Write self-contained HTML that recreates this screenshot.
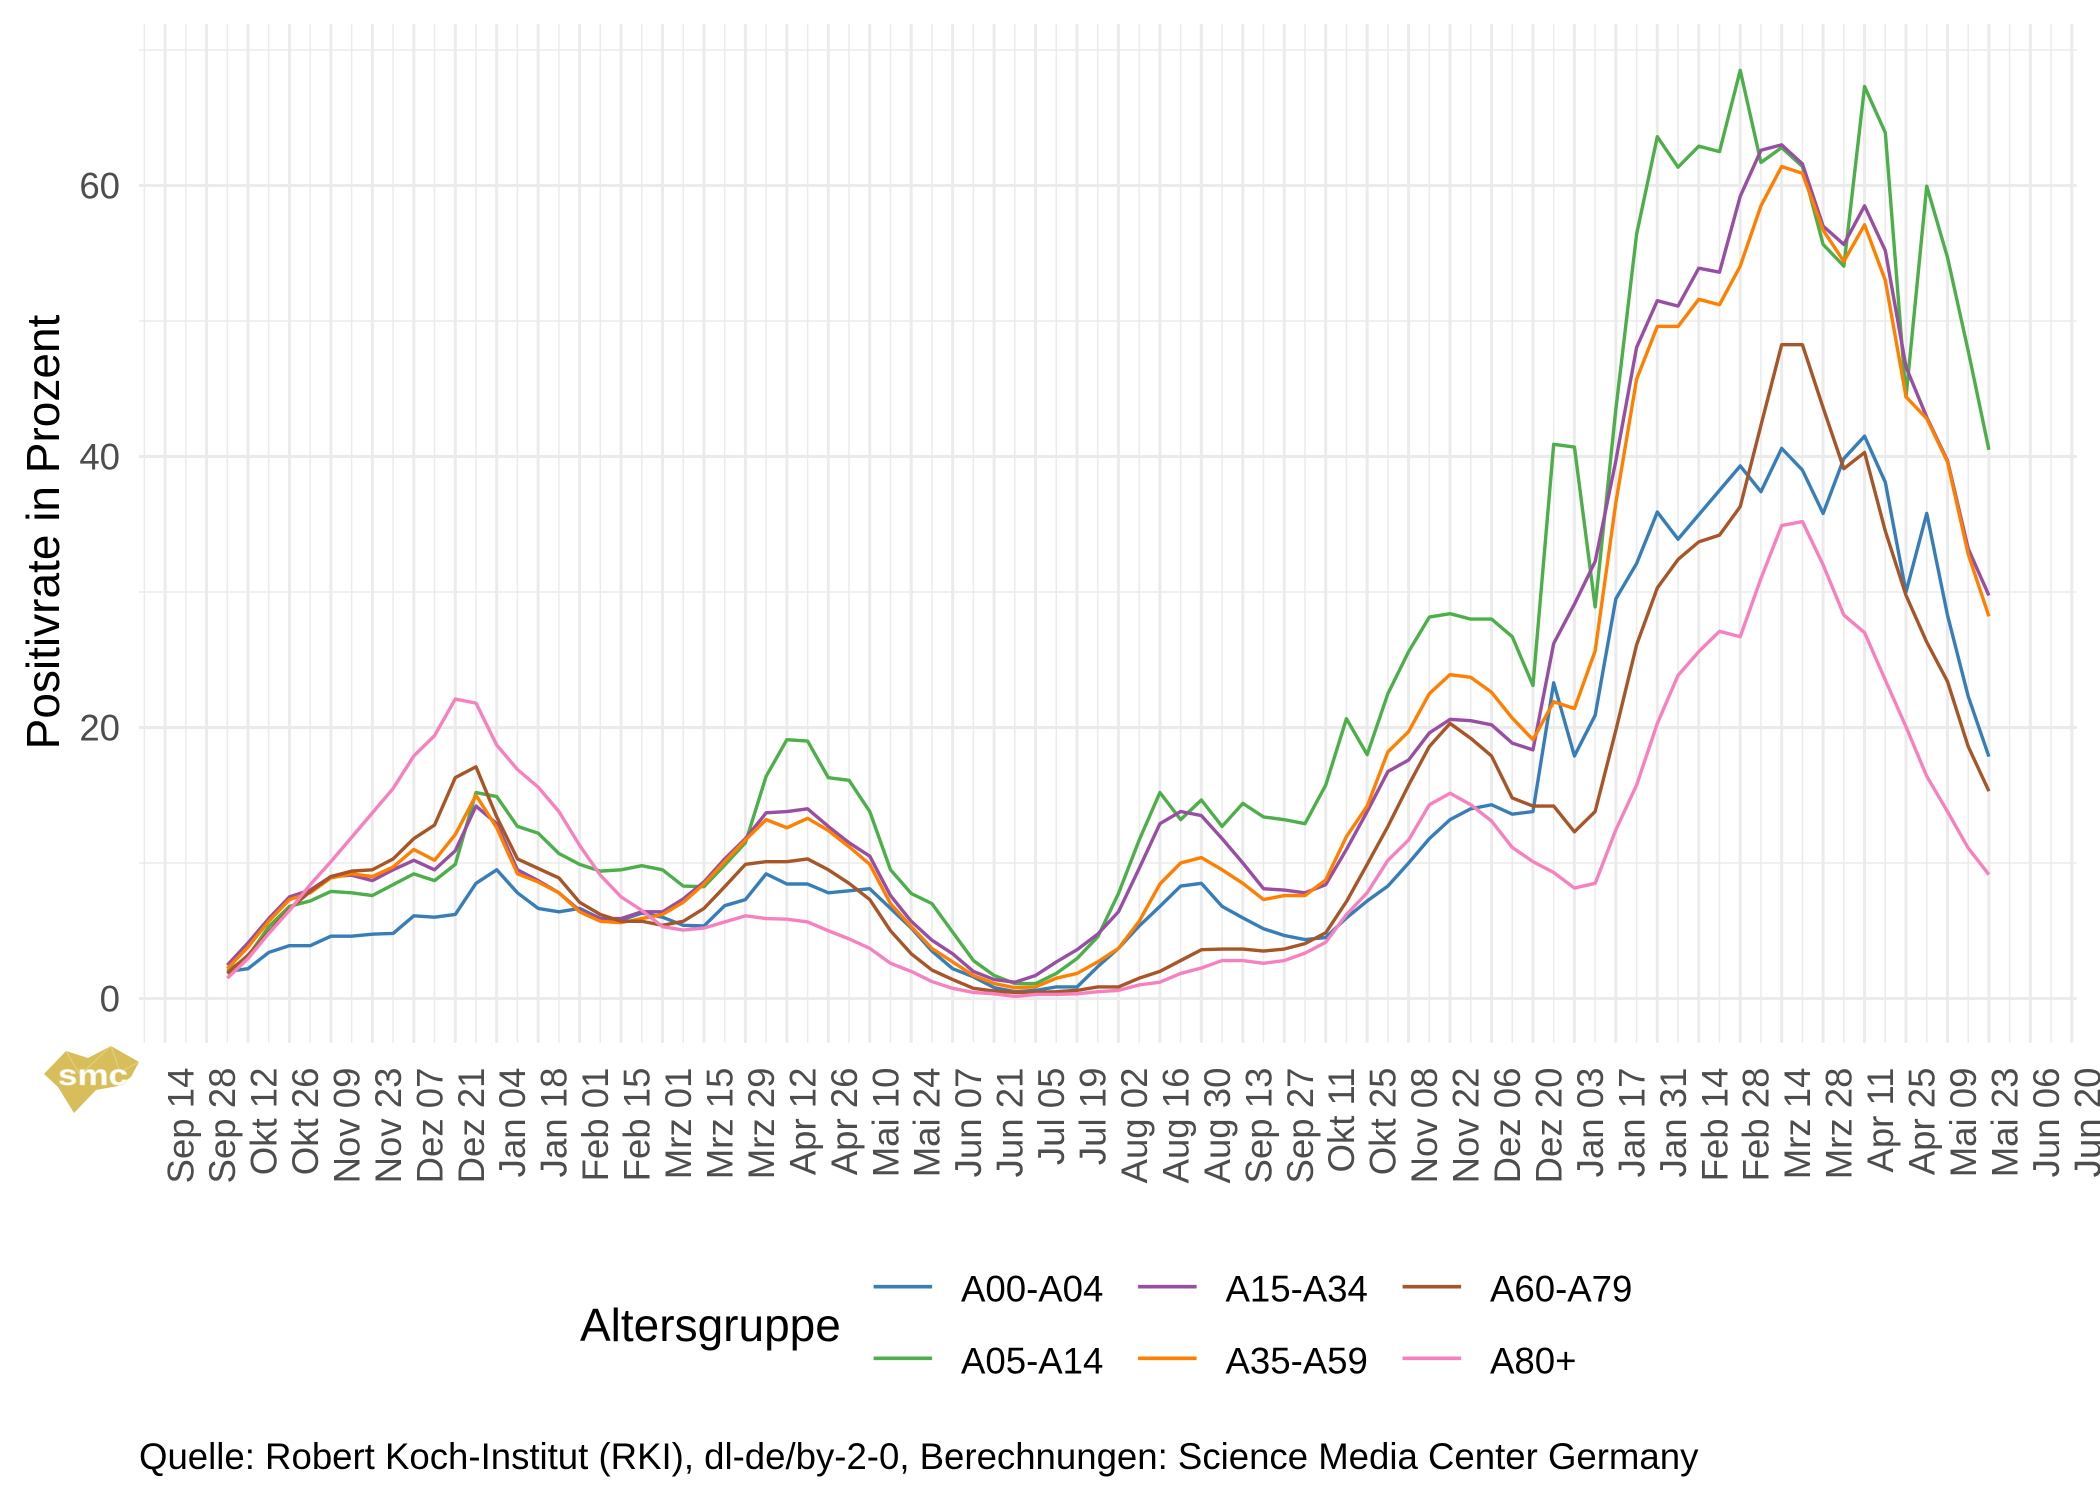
<!DOCTYPE html>
<html>
<head>
<meta charset="utf-8">
<style>
html,body{margin:0;padding:0;background:#fff;}
svg{display:block;}
text{font-family:"Liberation Sans",Arial,sans-serif;}
</style>
</head>
<body>
<svg xmlns="http://www.w3.org/2000/svg" width="2100" height="1499" viewBox="0 0 2100 1499">
<rect x="0" y="0" width="2100" height="1499" fill="#ffffff"/>

<!-- minor gridlines -->
<g stroke="#EBEBEB" fill="none">
  <path stroke-width="1.5" d="M139 863H2076.7M139 592H2076.7M139 321H2076.7M139 50H2076.7"/>
  <g transform="translate(165.1,0) scale(20.725,1)">
    <path vector-effect="non-scaling-stroke" stroke-width="1.5" d="M-1 24V1042.7M1 24V1042.7M3 24V1042.7M5 24V1042.7M7 24V1042.7M9 24V1042.7M11 24V1042.7M13 24V1042.7M15 24V1042.7M17 24V1042.7M19 24V1042.7M21 24V1042.7M23 24V1042.7M25 24V1042.7M27 24V1042.7M29 24V1042.7M31 24V1042.7M33 24V1042.7M35 24V1042.7M37 24V1042.7M39 24V1042.7M41 24V1042.7M43 24V1042.7M45 24V1042.7M47 24V1042.7M49 24V1042.7M51 24V1042.7M53 24V1042.7M55 24V1042.7M57 24V1042.7M59 24V1042.7M61 24V1042.7M63 24V1042.7M65 24V1042.7M67 24V1042.7M69 24V1042.7M71 24V1042.7M73 24V1042.7M75 24V1042.7M77 24V1042.7M79 24V1042.7M81 24V1042.7M83 24V1042.7M85 24V1042.7M87 24V1042.7M89 24V1042.7M91 24V1042.7"/>
  </g>
  <!-- major -->
  <path stroke-width="3" d="M139 998.5H2076.7M139 727.5H2076.7M139 456.5H2076.7M139 185.5H2076.7"/>
  <g transform="translate(165.1,0) scale(20.725,1)">
    <path vector-effect="non-scaling-stroke" stroke-width="3" d="M0 24V1042.7M2 24V1042.7M4 24V1042.7M6 24V1042.7M8 24V1042.7M10 24V1042.7M12 24V1042.7M14 24V1042.7M16 24V1042.7M18 24V1042.7M20 24V1042.7M22 24V1042.7M24 24V1042.7M26 24V1042.7M28 24V1042.7M30 24V1042.7M32 24V1042.7M34 24V1042.7M36 24V1042.7M38 24V1042.7M40 24V1042.7M42 24V1042.7M44 24V1042.7M46 24V1042.7M48 24V1042.7M50 24V1042.7M52 24V1042.7M54 24V1042.7M56 24V1042.7M58 24V1042.7M60 24V1042.7M62 24V1042.7M64 24V1042.7M66 24V1042.7M68 24V1042.7M70 24V1042.7M72 24V1042.7M74 24V1042.7M76 24V1042.7M78 24V1042.7M80 24V1042.7M82 24V1042.7M84 24V1042.7M86 24V1042.7M88 24V1042.7M90 24V1042.7M92 24V1042.7"/>
  </g>
</g>

<!-- data series -->
<g transform="translate(227.3,998.5) scale(20.725,-13.55)" fill="none" stroke-linejoin="round">
  <polyline vector-effect="non-scaling-stroke" stroke="#377EB8" stroke-width="3.4" points="0,2 1,2.2 2,3.4 3,3.9 4,3.9 5,4.6 6,4.6 7,4.75 8,4.8 9,6.1 10,6 11,6.2 12,8.5 13,9.5 14,7.8 15,6.65 16,6.4 17,6.65 18,5.9 19,5.8 20,6.3 21,6 22,5.4 23,5.35 24,6.85 25,7.3 26,9.2 27,8.45 28,8.45 29,7.8 30,7.95 31,8.1 32,6.65 33,5.2 34,3.5 35,2.2 36,1.6 37,0.8 38,0.5 39,0.6 40,0.85 41,0.85 42,2.35 43,3.7 44,5.35 45,6.8 46,8.3 47,8.5 48,6.8 49,5.95 50,5.15 51,4.65 52,4.35 53,4.5 54,5.95 55,7.2 56,8.3 57,10 58,11.8 59,13.2 60,14 61,14.3 62,13.6 63,13.8 64,23.3 65,17.9 66,20.9 67,29.5 68,32.1 69,35.9 70,33.9 71,35.7 72,37.5 73,39.3 74,37.4 75,40.6 76,39 77,35.8 78,39.85 79,41.5 80,38.1 81,30 82,35.8 83,28.3 84,22.3 85,17.85"/>
  <polyline vector-effect="non-scaling-stroke" stroke="#4DAF4A" stroke-width="3.4" points="0,2 1,3.1 2,5.3 3,6.8 4,7.2 5,7.9 6,7.8 7,7.6 8,8.4 9,9.2 10,8.7 11,9.9 12,15.2 13,14.9 14,12.7 15,12.2 16,10.7 17,9.9 18,9.4 19,9.5 20,9.8 21,9.5 22,8.3 23,8.25 24,9.85 25,11.5 26,16.4 27,19.1 28,19 29,16.3 30,16.1 31,13.8 32,9.5 33,7.75 34,7 35,4.9 36,2.8 37,1.7 38,1.1 39,1.1 40,1.85 41,2.95 42,4.55 43,7.75 44,11.7 45,15.2 46,13.2 47,14.65 48,12.7 49,14.4 50,13.4 51,13.2 52,12.9 53,15.75 54,20.65 55,18 56,22.5 57,25.6 58,28.15 59,28.4 60,28 61,28 62,26.7 63,23.1 64,40.9 65,40.7 66,28.9 67,43.5 68,56.4 69,63.6 70,61.35 71,62.9 72,62.5 73,68.5 74,61.7 75,62.8 76,61.4 77,55.65 78,54.05 79,67.3 80,63.9 81,44.4 82,59.95 83,54.7 84,47.8 85,40.5"/>
  <polyline vector-effect="non-scaling-stroke" stroke="#984EA3" stroke-width="3.4" points="0,2.46 1,4.1 2,5.9 3,7.5 4,8 5,9 6,9.1 7,8.7 8,9.5 9,10.2 10,9.5 11,10.9 12,14.2 13,12.9 14,9.5 15,8.7 16,7.8 17,6.5 18,5.9 19,5.9 20,6.4 21,6.4 22,7.35 23,8.6 24,10.3 25,11.8 26,13.7 27,13.8 28,14 29,12.7 30,11.5 31,10.5 32,7.6 33,5.7 34,4.3 35,3.3 36,2 37,1.4 38,1.2 39,1.7 40,2.7 41,3.6 42,4.75 43,6.4 44,9.6 45,12.9 46,13.8 47,13.5 48,11.8 49,10 50,8.1 51,8 52,7.8 53,8.4 54,11 55,13.8 56,16.75 57,17.6 58,19.6 59,20.6 60,20.5 61,20.2 62,18.85 63,18.35 64,26.2 65,29.1 66,32.25 67,39.7 68,48.05 69,51.5 70,51.1 71,53.9 72,53.6 73,59.2 74,62.6 75,63 76,61.6 77,57 78,55.65 79,58.5 80,55.2 81,46.6 82,42.9 83,39.7 84,33.2 85,29.75"/>
  <polyline vector-effect="non-scaling-stroke" stroke="#FF7F00" stroke-width="3.4" points="0,2.2 1,3.8 2,5.7 3,7.3 4,7.8 5,8.9 6,9.2 7,9 8,9.7 9,11 10,10.2 11,12.1 12,15 13,12.6 14,9.2 15,8.6 16,7.8 17,6.4 18,5.7 19,5.6 20,5.9 21,6.2 22,7.1 23,8.45 24,10.1 25,11.7 26,13.2 27,12.6 28,13.3 29,12.4 30,11.2 31,9.9 32,7 33,5.3 34,3.7 35,2.7 36,1.7 37,1.1 38,0.8 39,0.85 40,1.5 41,1.85 42,2.7 43,3.7 44,5.7 45,8.45 46,10 47,10.4 48,9.5 49,8.5 50,7.3 51,7.6 52,7.6 53,8.75 54,11.95 55,14.2 56,18.2 57,19.7 58,22.5 59,23.9 60,23.7 61,22.6 62,20.7 63,19.1 64,21.9 65,21.4 66,25.65 67,36.6 68,45.7 69,49.6 70,49.6 71,51.6 72,51.2 73,54.05 74,58.5 75,61.4 76,60.9 77,56.7 78,54.4 79,57.1 80,53 81,44.4 82,42.8 83,39.6 84,32.8 85,28.2"/>
  <polyline vector-effect="non-scaling-stroke" stroke="#A65628" stroke-width="3.4" points="0,1.85 1,3.2 2,4.9 3,6.6 4,7.9 5,9 6,9.4 7,9.5 8,10.3 9,11.8 10,12.8 11,16.3 12,17.1 13,13.4 14,10.3 15,9.6 16,8.9 17,7.1 18,6.2 19,5.7 20,5.7 21,5.4 22,5.7 23,6.65 24,8.25 25,9.9 26,10.1 27,10.1 28,10.3 29,9.5 30,8.5 31,7.3 32,5 33,3.3 34,2.1 35,1.4 36,0.75 37,0.55 38,0.45 39,0.45 40,0.5 41,0.6 42,0.85 43,0.85 44,1.5 45,2 46,2.8 47,3.6 48,3.65 49,3.65 50,3.5 51,3.65 52,4.05 53,4.85 54,7.15 55,9.9 56,12.7 57,15.75 58,18.6 59,20.3 60,19.2 61,17.9 62,14.8 63,14.2 64,14.2 65,12.3 66,13.8 67,19.8 68,26.1 69,30.3 70,32.4 71,33.7 72,34.2 73,36.3 74,42.3 75,48.25 76,48.25 77,43.6 78,39.1 79,40.3 80,34.5 81,29.75 82,26.3 83,23.4 84,18.6 85,15.3"/>
  <polyline vector-effect="non-scaling-stroke" stroke="#F781BF" stroke-width="3.4" points="0,1.5 1,2.95 2,4.8 3,6.5 4,8.4 5,10.1 6,11.9 7,13.7 8,15.5 9,17.9 10,19.4 11,22.1 12,21.8 13,18.7 14,16.9 15,15.6 16,13.8 17,11.3 18,9.1 19,7.5 20,6.5 21,5.3 22,5.05 23,5.2 24,5.65 25,6.1 26,5.9 27,5.85 28,5.65 29,5 30,4.4 31,3.7 32,2.6 33,2 34,1.25 35,0.75 36,0.45 37,0.35 38,0.15 39,0.3 40,0.3 41,0.35 42,0.5 43,0.6 44,1 45,1.2 46,1.85 47,2.25 48,2.8 49,2.8 50,2.6 51,2.8 52,3.35 53,4.15 54,6.2 55,7.8 56,10.2 57,11.7 58,14.3 59,15.15 60,14.3 61,13.1 62,11.15 63,10.1 64,9.3 65,8.15 66,8.5 67,12.45 68,15.75 69,20.3 70,23.85 71,25.6 72,27.1 73,26.7 74,31 75,34.9 76,35.2 77,32 78,28.3 79,27 80,23.5 81,20.05 82,16.4 83,13.8 84,11.1 85,9.15"/>
</g>

<!-- y axis tick labels -->
<g font-size="36.6" fill="#4D4D4D" text-anchor="end">
  <text x="120" y="1011.5">0</text>
  <text x="120" y="740.5">20</text>
  <text x="120" y="469.5">40</text>
  <text x="120" y="198.5">60</text>
</g>

<!-- y axis title -->
<text transform="translate(59,532) rotate(-90)" text-anchor="middle" font-size="46" fill="#000">Positivrate in Prozent</text>

<!-- x axis tick labels -->
<g font-size="36.6" fill="#4D4D4D" text-anchor="end">
  <text transform="translate(193.6,1067.5) rotate(-90)">Sep 14</text>
  <text transform="translate(235.05,1067.5) rotate(-90)">Sep 28</text>
  <text transform="translate(276.5,1067.5) rotate(-90)">Okt 12</text>
  <text transform="translate(317.95,1067.5) rotate(-90)">Okt 26</text>
  <text transform="translate(359.4,1067.5) rotate(-90)">Nov 09</text>
  <text transform="translate(400.85,1067.5) rotate(-90)">Nov 23</text>
  <text transform="translate(442.3,1067.5) rotate(-90)">Dez 07</text>
  <text transform="translate(483.75,1067.5) rotate(-90)">Dez 21</text>
  <text transform="translate(525.2,1067.5) rotate(-90)">Jan 04</text>
  <text transform="translate(566.65,1067.5) rotate(-90)">Jan 18</text>
  <text transform="translate(608.1,1067.5) rotate(-90)">Feb 01</text>
  <text transform="translate(649.55,1067.5) rotate(-90)">Feb 15</text>
  <text transform="translate(691,1067.5) rotate(-90)">Mrz 01</text>
  <text transform="translate(732.45,1067.5) rotate(-90)">Mrz 15</text>
  <text transform="translate(773.9,1067.5) rotate(-90)">Mrz 29</text>
  <text transform="translate(815.35,1067.5) rotate(-90)">Apr 12</text>
  <text transform="translate(856.8,1067.5) rotate(-90)">Apr 26</text>
  <text transform="translate(898.25,1067.5) rotate(-90)">Mai 10</text>
  <text transform="translate(939.7,1067.5) rotate(-90)">Mai 24</text>
  <text transform="translate(981.15,1067.5) rotate(-90)">Jun 07</text>
  <text transform="translate(1022.6,1067.5) rotate(-90)">Jun 21</text>
  <text transform="translate(1064.05,1067.5) rotate(-90)">Jul 05</text>
  <text transform="translate(1105.5,1067.5) rotate(-90)">Jul 19</text>
  <text transform="translate(1146.95,1067.5) rotate(-90)">Aug 02</text>
  <text transform="translate(1188.4,1067.5) rotate(-90)">Aug 16</text>
  <text transform="translate(1229.85,1067.5) rotate(-90)">Aug 30</text>
  <text transform="translate(1271.3,1067.5) rotate(-90)">Sep 13</text>
  <text transform="translate(1312.75,1067.5) rotate(-90)">Sep 27</text>
  <text transform="translate(1354.2,1067.5) rotate(-90)">Okt 11</text>
  <text transform="translate(1395.65,1067.5) rotate(-90)">Okt 25</text>
  <text transform="translate(1437.1,1067.5) rotate(-90)">Nov 08</text>
  <text transform="translate(1478.55,1067.5) rotate(-90)">Nov 22</text>
  <text transform="translate(1520,1067.5) rotate(-90)">Dez 06</text>
  <text transform="translate(1561.45,1067.5) rotate(-90)">Dez 20</text>
  <text transform="translate(1602.9,1067.5) rotate(-90)">Jan 03</text>
  <text transform="translate(1644.35,1067.5) rotate(-90)">Jan 17</text>
  <text transform="translate(1685.8,1067.5) rotate(-90)">Jan 31</text>
  <text transform="translate(1727.25,1067.5) rotate(-90)">Feb 14</text>
  <text transform="translate(1768.7,1067.5) rotate(-90)">Feb 28</text>
  <text transform="translate(1810.15,1067.5) rotate(-90)">Mrz 14</text>
  <text transform="translate(1851.6,1067.5) rotate(-90)">Mrz 28</text>
  <text transform="translate(1893.05,1067.5) rotate(-90)">Apr 11</text>
  <text transform="translate(1934.5,1067.5) rotate(-90)">Apr 25</text>
  <text transform="translate(1975.95,1067.5) rotate(-90)">Mai 09</text>
  <text transform="translate(2017.4,1067.5) rotate(-90)">Mai 23</text>
  <text transform="translate(2058.85,1067.5) rotate(-90)">Jun 06</text>
  <text transform="translate(2100.3,1067.5) rotate(-90)">Jun 20</text>
</g>

<!-- logo -->
<g>
  <polygon fill="#D8BE5A" points="44,1074 66,1051 88,1058 111,1046 139,1062 131,1077 118,1086 96,1090 74,1113 58,1087"/>
  <polyline fill="none" stroke="#E8D68F" stroke-width="0.8" points="66,1051 80,1075 111,1046 120,1072 139,1062"/>
  <text x="93" y="1085" font-size="30" font-weight="bold" fill="#ffffff" text-anchor="middle" textLength="70" lengthAdjust="spacingAndGlyphs" stroke="#EFE3B0" stroke-width="0.6">smc</text>
</g>

<!-- legend -->
<text x="580" y="1341" font-size="46" fill="#000">Altersgruppe</text>
<g stroke-width="3.6" fill="none">
  <line x1="873.6" y1="1286.7" x2="932.1" y2="1286.7" stroke="#377EB8"/>
  <line x1="873.6" y1="1358.3" x2="932.1" y2="1358.3" stroke="#4DAF4A"/>
  <line x1="1138.1" y1="1286.7" x2="1196.6" y2="1286.7" stroke="#984EA3"/>
  <line x1="1138.1" y1="1358.3" x2="1196.6" y2="1358.3" stroke="#FF7F00"/>
  <line x1="1402.6" y1="1286.7" x2="1461.1" y2="1286.7" stroke="#A65628"/>
  <line x1="1402.6" y1="1358.3" x2="1461.1" y2="1358.3" stroke="#F781BF"/>
</g>
<g font-size="36.6" fill="#000">
  <text x="961" y="1301.7">A00-A04</text>
  <text x="961" y="1373.3">A05-A14</text>
  <text x="1225.5" y="1301.7">A15-A34</text>
  <text x="1225.5" y="1373.3">A35-A59</text>
  <text x="1490" y="1301.7">A60-A79</text>
  <text x="1490" y="1373.3">A80+</text>
</g>

<!-- caption -->
<text x="139" y="1469" font-size="36.6" fill="#000">Quelle: Robert Koch-Institut (RKI), dl-de/by-2-0, Berechnungen: Science Media Center Germany</text>
</svg>
</body>
</html>
